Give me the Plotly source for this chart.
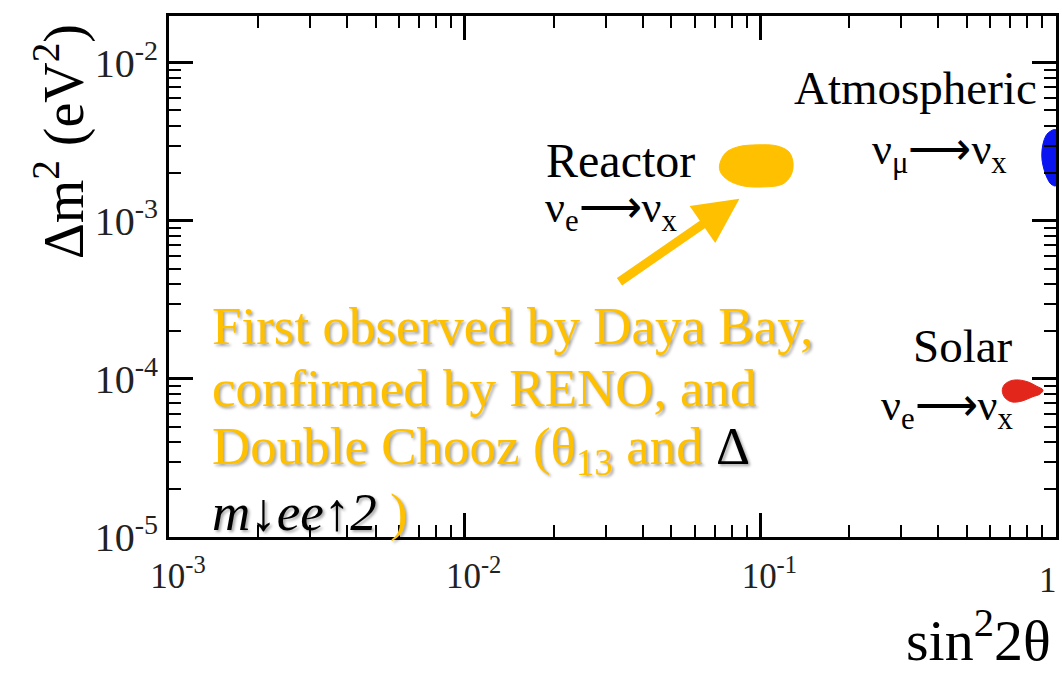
import numpy as np
import plotly.graph_objects as go

# ---------------- data ----------------
reactor_s2 = [0.0728, 0.0762, 0.0838, 0.0977, 0.114, 0.125, 0.129, 0.127, 0.119, 0.1017, 0.0869, 0.0775, 0.0733]
reactor_dm2 = [2.26e-3, 2.69e-3, 2.94e-3, 3.03e-3, 2.98e-3, 2.73e-3, 2.33e-3, 1.95e-3, 1.71e-3, 1.64e-3, 1.67e-3, 1.82e-3, 2.04e-3]

atmos_s2 = [1.0, 0.940, 0.912, 0.897, 0.897, 0.912, 0.933, 0.962, 1.0]
atmos_dm2 = [3.77e-3, 3.60e-3, 3.26e-3, 2.81e-3, 2.43e-3, 2.10e-3, 1.87e-3, 1.71e-3, 1.67e-3]

solar_s2 = [0.658, 0.668, 0.700, 0.745, 0.805, 0.857, 0.904, 0.884, 0.830, 0.769, 0.711, 0.673]
solar_dm2 = [8.39e-5, 9.16e-5, 9.71e-5, 9.86e-5, 9.57e-5, 9.03e-5, 8.51e-5, 8.04e-5, 7.69e-5, 7.26e-5, 7.15e-5, 7.58e-5]

x_tick_vals = [1e-3, 1e-2, 1e-1, 1]
x_tick_text = ["10<sup>-3</sup>", "10<sup>-2</sup>", "10<sup>-1</sup>", "1"]
y_tick_vals = [1e-5, 1e-4, 1e-3, 1e-2]
y_tick_text = ["10<sup>-5</sup>", "10<sup>-4</sup>", "10<sup>-3</sup>", "10<sup>-2</sup>"]

arrow_tip = (0.085, 1.38e-3)
arrow_tail = (0.033, 4.06e-4)

# ---------------- style ----------------
W, H = 1062, 675
L, R, T, B = 169, 3, 16, 138
ORANGE = "#FFC000"
SERIF = "Liberation Serif, Times New Roman, serif"

def px(x):
    return (x - L) / (W - L - R)

def py(y):
    return (H - B - y) / (H - T - B)

minor_x = [m * 10.0 ** e for e in range(-3, 0) for m in range(2, 10)]
minor_y = [m * 10.0 ** e for e in range(-5, -1) for m in range(2, 10)]

fig = go.Figure()
for xs, ys, col in [(reactor_s2, reactor_dm2, ORANGE),
                    (atmos_s2, atmos_dm2, "#0A14F0"),
                    (solar_s2, solar_dm2, "#E3261B")]:
    fig.add_trace(go.Scatter(x=xs + xs[:1], y=ys + ys[:1], mode="lines", fill="toself",
                             fillcolor=col, line=dict(color=col, width=1, shape="spline"),
                             hoverinfo="skip", showlegend=False))

axis_common = dict(type="log", showline=True, linewidth=3, linecolor="black", mirror="allticks",
                   ticks="inside", ticklen=24, tickwidth=3, tickcolor="black",
                   showgrid=False, zeroline=False)

fig.update_xaxes(**axis_common, range=[-3, 0], tickmode="array", tickvals=x_tick_vals, ticktext=x_tick_text,
                 tickfont=dict(family=SERIF, size=35, color="#222"), ticklabelstandoff=6,
                 ticklabelshift=9,
                 minor=dict(tickmode="array", tickvals=minor_x, ticks="inside", ticklen=12,
                            tickwidth=2, tickcolor="black", showgrid=False))
fig.update_yaxes(**axis_common, range=[-5, np.log10(0.0198)], tickmode="array", tickvals=y_tick_vals,
                 ticktext=y_tick_text, tickfont=dict(family=SERIF, size=40, color="#222"),
                 minor=dict(tickmode="array", tickvals=minor_y, ticks="inside", ticklen=12,
                            tickwidth=2, tickcolor="black", showgrid=False))

ann = []
def text(x, y, s, size, color="black", xanchor="center", yanchor="middle", shadow=None, angle=0):
    f = dict(family=SERIF, size=size, color=color)
    if shadow:
        f["shadow"] = shadow
    ann.append(dict(x=px(x), y=py(y), xref="paper", yref="paper", text=s, showarrow=False,
                    xanchor=xanchor, yanchor=yanchor, font=f, textangle=angle))

# the last x tick label sits at the very edge of the page: drawn inside the page
ann.append(dict(x=1.0, xref="paper", xshift=3, y=py(580), yref="paper", text=x_tick_text[-1],
                showarrow=False, xanchor="right", yanchor="middle",
                font=dict(family=SERIF, size=35, color="#222")))

NU = "\u03bd"
ARR = "\u27f6"
text(622, 160, "Reactor", 48)
text(612, 210, f"{NU}<sub>e</sub>{ARR}{NU}<sub>x</sub>", 44)
text(918, 88, "Atmospheric", 47)
text(942, 153, f"{NU}<sub>\u03bc</sub>{ARR}{NU}<sub>x</sub>", 44)
text(966, 346, "Solar", 47)
text(950, 408, f"{NU}<sub>e</sub>{ARR}{NU}<sub>x</sub>", 44)

sh = "2px 2px 3px rgba(0,0,0,0.35)"
text(210, 326, "First observed by Daya Bay,", 53, ORANGE, xanchor="left", shadow=sh)
text(210, 388, "confirmed by RENO, and", 53, ORANGE, xanchor="left", shadow=sh)
text(210, 450, "Double Chooz (\u03b8<sub>13</sub> and <span style='color:black'>\u0394</span>", 53,
     ORANGE, xanchor="left", shadow=sh)
text(210, 512, "<span style='color:black'><i>m\u2193ee\u21912</i></span> )", 53, ORANGE,
     xanchor="left", shadow=sh)

text(60, 142, "\u0394m<sup>2</sup> (eV<sup>2</sup>)", 56, angle=-90)
text(981, 636, "sin<sup>2</sup>2\u03b8", 58)

ann.append(dict(x=np.log10(arrow_tip[0]), y=np.log10(arrow_tip[1]), xref="x", yref="y",
                ax=np.log10(arrow_tail[0]), ay=np.log10(arrow_tail[1]), axref="x", ayref="y",
                text="", showarrow=True, arrowhead=2, arrowsize=1.0, arrowwidth=9, arrowcolor=ORANGE))

fig.update_layout(width=W, height=H, margin=dict(l=L, r=R, t=T, b=B, pad=0),
                  paper_bgcolor="white", plot_bgcolor="white", annotations=ann, showlegend=False)

fig.write_html("out.html", config={"displayModeBar": False},
               post_script="document.body.style.margin='0px';document.body.style.overflow='hidden';")
